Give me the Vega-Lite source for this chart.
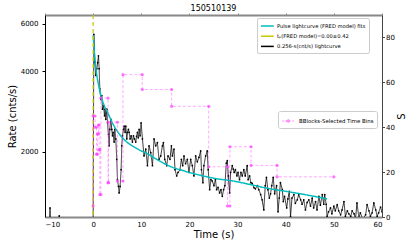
{
  "$schema": "https://vega.github.io/schema/vega-lite/v6.json",
  "width": 337,
  "height": 202,
  "autosize": {"type": "none"},
  "padding": {"left": 45, "top": 15, "right": 33, "bottom": 32},
  "background": "white",
  "title": {"text": "150510139", "fontSize": 8, "font": "DejaVu Sans", "fontWeight": "normal", "offset": 0, "color": "black"},
  "config": {
    "view": {"stroke": null},
    "font": "DejaVu Sans",
    "axis": {"labelFont": "DejaVu Sans", "titleFont": "DejaVu Sans", "labelColor": "black", "titleColor": "black", "titleFontWeight": "normal", "grid": false}
  },
  "datasets": {
    "lc": [
      {"t": -9.98, "r": 1000}, {"t": -9.47, "r": 1040}, {"t": -9.22, "r": 1010}, {"t": -8.96, "r": 1230}, {"t": -8.70, "r": 1020},
      {"t": -8.19, "r": 1060}, {"t": -7.68, "r": 990}, {"t": -7.30, "r": 1050}, {"t": -7.04, "r": 1150}, {"t": -6.78, "r": 1030},
      {"t": -6.27, "r": 1010}, {"t": -5.76, "r": 1070}, {"t": -5.25, "r": 1000}, {"t": -4.74, "r": 1050}, {"t": -4.22, "r": 1020},
      {"t": -3.71, "r": 1080}, {"t": -3.20, "r": 990}, {"t": -2.69, "r": 1040}, {"t": -2.18, "r": 1060}, {"t": -1.66, "r": 1010},
      {"t": -1.15, "r": 1050}, {"t": -0.64, "r": 1030}, {"t": -0.13, "r": 1060}, {"t": 0.0, "r": 1050},
      {"t": 0.14, "r": 5480}, {"t": 0.35, "r": 4320}, {"t": 0.56, "r": 3850}, {"t": 0.76, "r": 4080}, {"t": 0.94, "r": 4300},
      {"t": 1.11, "r": 4560}, {"t": 1.25, "r": 4080}, {"t": 1.39, "r": 3430}, {"t": 1.6, "r": 3130}, {"t": 1.8, "r": 3240},
      {"t": 1.94, "r": 2880}, {"t": 2.15, "r": 2970}, {"t": 2.36, "r": 2720}, {"t": 2.5, "r": 2880}, {"t": 2.63, "r": 2640},
      {"t": 2.84, "r": 2880}, {"t": 2.98, "r": 2570}, {"t": 3.18, "r": 2320}, {"t": 3.32, "r": 2100}, {"t": 3.46, "r": 2420},
      {"t": 3.67, "r": 2640}, {"t": 3.87, "r": 2420}, {"t": 4.01, "r": 2290}, {"t": 4.15, "r": 2360}, {"t": 4.36, "r": 2170},
      {"t": 4.5, "r": 2420}, {"t": 4.7, "r": 2230}, {"t": 4.91, "r": 1870}, {"t": 5.05, "r": 1570}, {"t": 5.26, "r": 1480},
      {"t": 5.4, "r": 1400}, {"t": 5.6, "r": 1480}, {"t": 5.81, "r": 1710}, {"t": 5.95, "r": 2100}, {"t": 6.09, "r": 2290},
      {"t": 6.3, "r": 2420}, {"t": 6.43, "r": 2490}, {"t": 6.64, "r": 2360}, {"t": 6.78, "r": 2490}, {"t": 6.99, "r": 2230},
      {"t": 7.13, "r": 2360}, {"t": 7.33, "r": 2420}, {"t": 7.47, "r": 2360}, {"t": 7.68, "r": 2230}, {"t": 7.89, "r": 2290},
      {"t": 8.16, "r": 2170}, {"t": 8.37, "r": 2290}, {"t": 8.58, "r": 2230}, {"t": 8.85, "r": 2170}, {"t": 9.02, "r": 2280},
      {"t": 9.2, "r": 2360}, {"t": 9.38, "r": 2250}, {"t": 9.55, "r": 2420}, {"t": 9.75, "r": 2290}, {"t": 9.96, "r": 2560},
      {"t": 10.24, "r": 2230}, {"t": 10.57, "r": 1925}, {"t": 10.93, "r": 2040}, {"t": 11.28, "r": 1770}, {"t": 11.61, "r": 2100},
      {"t": 11.96, "r": 1980}, {"t": 12.32, "r": 1770}, {"t": 12.65, "r": 2230}, {"t": 13.0, "r": 2100}, {"t": 13.35, "r": 2160},
      {"t": 13.68, "r": 1870}, {"t": 14.04, "r": 1925}, {"t": 14.39, "r": 2100}, {"t": 14.6, "r": 2160}, {"t": 14.87, "r": 1870},
      {"t": 15.28, "r": 1770}, {"t": 15.55, "r": 1925}, {"t": 15.96, "r": 1870}, {"t": 16.26, "r": 2100}, {"t": 16.46, "r": 1925},
      {"t": 16.79, "r": 2040}, {"t": 17.0, "r": 1710}, {"t": 17.35, "r": 1620}, {"t": 17.62, "r": 1670}, {"t": 18.04, "r": 1710},
      {"t": 18.33, "r": 1870}, {"t": 18.6, "r": 1770}, {"t": 18.87, "r": 1925}, {"t": 19.2, "r": 1800}, {"t": 19.57, "r": 1870},
      {"t": 19.9, "r": 1670}, {"t": 20.26, "r": 1870}, {"t": 20.6, "r": 1770}, {"t": 20.94, "r": 1620}, {"t": 21.29, "r": 1925},
      {"t": 21.64, "r": 1830}, {"t": 21.98, "r": 1900}, {"t": 22.33, "r": 2010}, {"t": 22.5, "r": 1710}, {"t": 22.8, "r": 1530},
      {"t": 23.0, "r": 1770}, {"t": 23.37, "r": 1925}, {"t": 23.7, "r": 2010}, {"t": 23.9, "r": 1710}, {"t": 24.2, "r": 1440},
      {"t": 24.47, "r": 1570}, {"t": 24.75, "r": 1550}, {"t": 25.1, "r": 1490}, {"t": 25.4, "r": 1570}, {"t": 25.65, "r": 1440},
      {"t": 25.95, "r": 1470}, {"t": 26.27, "r": 1400}, {"t": 26.55, "r": 1440}, {"t": 26.83, "r": 1360}, {"t": 27.1, "r": 1440},
      {"t": 27.37, "r": 1490}, {"t": 27.66, "r": 1810}, {"t": 27.87, "r": 1850}, {"t": 28.07, "r": 1620}, {"t": 28.35, "r": 1400},
      {"t": 28.55, "r": 1670}, {"t": 28.9, "r": 1770}, {"t": 29.1, "r": 1720}, {"t": 29.3, "r": 1670}, {"t": 29.55, "r": 1710},
      {"t": 29.86, "r": 1620}, {"t": 30.1, "r": 1670}, {"t": 30.4, "r": 1570}, {"t": 30.7, "r": 1670}, {"t": 30.98, "r": 1620},
      {"t": 31.3, "r": 1710}, {"t": 31.6, "r": 1620}, {"t": 32.0, "r": 1770}, {"t": 32.2, "r": 1570}, {"t": 32.5, "r": 1620},
      {"t": 32.76, "r": 1530}, {"t": 33.05, "r": 1520}, {"t": 33.4, "r": 1465}, {"t": 33.7, "r": 1450}, {"t": 34.1, "r": 1490},
      {"t": 34.4, "r": 1440}, {"t": 34.8, "r": 1380}, {"t": 35.1, "r": 1320}, {"t": 35.45, "r": 1210}, {"t": 35.75, "r": 1490},
      {"t": 36.0, "r": 1600}, {"t": 36.3, "r": 1440}, {"t": 36.6, "r": 1340}, {"t": 36.85, "r": 1390}, {"t": 37.1, "r": 1490},
      {"t": 37.4, "r": 1600}, {"t": 37.7, "r": 1390}, {"t": 38.1, "r": 1490}, {"t": 38.4, "r": 1190}, {"t": 38.65, "r": 1340},
      {"t": 38.9, "r": 1530}, {"t": 39.3, "r": 1440}, {"t": 39.5, "r": 1300}, {"t": 39.76, "r": 1360}, {"t": 40.2, "r": 1230},
      {"t": 40.45, "r": 1330}, {"t": 40.75, "r": 1420}, {"t": 41.0, "r": 1145}, {"t": 41.3, "r": 1340}, {"t": 41.7, "r": 1380},
      {"t": 42.0, "r": 1280}, {"t": 42.4, "r": 1320}, {"t": 42.7, "r": 1380}, {"t": 43.1, "r": 1320}, {"t": 43.4, "r": 1270},
      {"t": 43.75, "r": 1320}, {"t": 44.1, "r": 1210}, {"t": 44.45, "r": 1290}, {"t": 44.8, "r": 1320}, {"t": 45.15, "r": 1250},
      {"t": 45.5, "r": 1340}, {"t": 45.8, "r": 1230}, {"t": 46.2, "r": 1300}, {"t": 46.5, "r": 1210}, {"t": 46.9, "r": 1360},
      {"t": 47.2, "r": 1260}, {"t": 47.6, "r": 1380}, {"t": 47.9, "r": 1270}, {"t": 48.1, "r": 1380}, {"t": 48.4, "r": 1270},
      {"t": 48.6, "r": 1145}, {"t": 48.9, "r": 1190}, {"t": 49.3, "r": 1230}, {"t": 49.6, "r": 1170}, {"t": 50.0, "r": 1250},
      {"t": 50.3, "r": 1200}, {"t": 50.7, "r": 1265}, {"t": 51.0, "r": 1200}, {"t": 51.4, "r": 1160}, {"t": 51.7, "r": 1210},
      {"t": 52.1, "r": 1300}, {"t": 52.4, "r": 1145}, {"t": 52.8, "r": 1200}, {"t": 53.1, "r": 1170}, {"t": 53.5, "r": 1145},
      {"t": 53.8, "r": 1200}, {"t": 54.2, "r": 1170}, {"t": 54.5, "r": 1120}, {"t": 54.8, "r": 1285}, {"t": 55.2, "r": 1130},
      {"t": 55.5, "r": 1180}, {"t": 55.9, "r": 1130}, {"t": 56.2, "r": 1130}, {"t": 56.6, "r": 1160}, {"t": 56.9, "r": 1265},
      {"t": 57.3, "r": 1200}, {"t": 57.6, "r": 1145}, {"t": 57.95, "r": 1180}, {"t": 58.3, "r": 1285}, {"t": 58.7, "r": 1210},
      {"t": 59.0, "r": 1145}, {"t": 59.3, "r": 1180}, {"t": 59.7, "r": 1240}, {"t": 60.0, "r": 1190}
    ],
    "fred": [
      {"t": 0.02, "r": 5450}, {"t": 0.3, "r": 4600}, {"t": 0.6, "r": 4050}, {"t": 1.0, "r": 3650}, {"t": 1.6, "r": 3250},
      {"t": 2.2, "r": 3000}, {"t": 3.0, "r": 2800}, {"t": 4.0, "r": 2560}, {"t": 5.4, "r": 2330}, {"t": 7.0, "r": 2170},
      {"t": 8.5, "r": 2080}, {"t": 10.0, "r": 2010}, {"t": 11.0, "r": 1975}, {"t": 13.0, "r": 1880}, {"t": 16.0, "r": 1760},
      {"t": 19.0, "r": 1690}, {"t": 22.3, "r": 1630}, {"t": 25.0, "r": 1590}, {"t": 29.2, "r": 1550}, {"t": 33.0, "r": 1500},
      {"t": 36.0, "r": 1460}, {"t": 40.0, "r": 1420}, {"t": 44.0, "r": 1380}, {"t": 48.6, "r": 1330}
    ],
    "t0": [{"t": 0}],
    "bb": [
      {"o": 1, "t": 0.0, "s": 4.9}, {"o": 2, "t": 0.0, "s": 45}, {"o": 3, "t": 0.4, "s": 45}, {"o": 4, "t": 0.4, "s": 40},
      {"o": 5, "t": 0.7, "s": 40}, {"o": 6, "t": 0.7, "s": 28}, {"o": 7, "t": 0.9, "s": 28}, {"o": 8, "t": 0.9, "s": 37},
      {"o": 9, "t": 1.1, "s": 37}, {"o": 10, "t": 1.1, "s": 41}, {"o": 11, "t": 1.25, "s": 41}, {"o": 12, "t": 1.25, "s": 30},
      {"o": 13, "t": 1.4, "s": 30}, {"o": 14, "t": 1.4, "s": 10}, {"o": 15, "t": 1.6, "s": 10}, {"o": 16, "t": 1.6, "s": 53},
      {"o": 17, "t": 3.1, "s": 53}, {"o": 18, "t": 3.1, "s": 15.3}, {"o": 19, "t": 3.2, "s": 15.3}, {"o": 20, "t": 3.2, "s": 42.2},
      {"o": 21, "t": 5.05, "s": 42.2}, {"o": 22, "t": 5.05, "s": 16}, {"o": 23, "t": 6.2, "s": 16}, {"o": 24, "t": 6.2, "s": 63.4},
      {"o": 25, "t": 10.2, "s": 63.4}, {"o": 26, "t": 10.2, "s": 56.8}, {"o": 27, "t": 16.3, "s": 56.8}, {"o": 28, "t": 16.3, "s": 49.3},
      {"o": 29, "t": 24.0, "s": 49.3}, {"o": 30, "t": 24.0, "s": 22.4}, {"o": 31, "t": 27.9, "s": 22.4}, {"o": 32, "t": 27.9, "s": 4.9},
      {"o": 33, "t": 28.4, "s": 4.9}, {"o": 34, "t": 28.4, "s": 31.3}, {"o": 35, "t": 32.8, "s": 31.3}, {"o": 36, "t": 32.8, "s": 23},
      {"o": 37, "t": 38.2, "s": 23}, {"o": 38, "t": 38.2, "s": 17.9}, {"o": 39, "t": 50.0, "s": 17.9}
    ]
  },
  "layer": [
    {
      "layer": [
        {
          "data": {"name": "lc"},
          "mark": {"type": "line", "clip": true, "strokeWidth": 0.8, "point": {"size": 3, "filled": true}},
          "encoding": {
            "x": {"field": "t", "type": "quantitative", "scale": {"domain": [-10, 60], "nice": false, "zero": false},
              "axis": {"values": [-10, 0, 10, 20, 30, 40, 50, 60], "title": "Time (s)", "titleFontSize": 10, "labelFontSize": 7, "domainColor": "#888888", "domainWidth": 2, "ticks": false, "labelPadding": 3, "titlePadding": 2}},
            "y": {"field": "r", "type": "quantitative", "scale": {"type": "log", "domain": [1138, 6480], "nice": false},
              "axis": {"values": [2000, 4000, 6000], "format": "d", "title": "Rate (cnts/s)", "titleFontSize": 10, "labelFontSize": 7, "domainColor": "black", "tickColor": "black", "tickSize": 3, "labelPadding": 4, "titlePadding": 3}},
            "color": {"datum": "0.256-s(cnt/s) lightcurve", "type": "nominal",
              "scale": {"domain": ["Pulse lightcurve (FRED model) fits", "tₚ(FRED model)=0.00±0.42", "0.256-s(cnt/s) lightcurve"], "range": ["#00bcbc", "#c8c800", "black"]},
              "legend": {"orient": "none", "legendX": 212, "legendY": 3, "title": null, "symbolType": "M-1,0H2.2", "symbolStrokeWidth": 1.5, "symbolSize": 64, "labelFontSize": 5.2, "labelFont": "DejaVu Sans", "padding": 3, "strokeColor": "#cccccc", "fillColor": "white", "cornerRadius": 2, "rowPadding": 1.2, "labelOffset": 7}},
            "strokeDash": {"datum": "0.256-s(cnt/s) lightcurve", "type": "nominal",
              "scale": {"domain": ["Pulse lightcurve (FRED model) fits", "tₚ(FRED model)=0.00±0.42", "0.256-s(cnt/s) lightcurve"], "range": [[1, 0], [4, 3], [1, 0]]},
              "legend": {"orient": "none", "legendX": 212, "legendY": 3, "title": null, "symbolType": "M-1,0H2.2", "symbolStrokeWidth": 1.5, "symbolSize": 64, "labelFontSize": 5.2, "labelFont": "DejaVu Sans", "padding": 3, "strokeColor": "#cccccc", "fillColor": "white", "cornerRadius": 2, "rowPadding": 1.2, "labelOffset": 7}}
          }
        },
        {
          "data": {"name": "fred"},
          "mark": {"type": "line", "clip": true, "strokeWidth": 1.5, "interpolate": "monotone"},
          "encoding": {
            "x": {"field": "t", "type": "quantitative"},
            "y": {"field": "r", "type": "quantitative"},
            "color": {"datum": "Pulse lightcurve (FRED model) fits", "type": "nominal",
              "scale": {"domain": ["Pulse lightcurve (FRED model) fits", "tₚ(FRED model)=0.00±0.42", "0.256-s(cnt/s) lightcurve"], "range": ["#00bcbc", "#c8c800", "black"]}},
            "strokeDash": {"datum": "Pulse lightcurve (FRED model) fits", "type": "nominal",
              "scale": {"domain": ["Pulse lightcurve (FRED model) fits", "tₚ(FRED model)=0.00±0.42", "0.256-s(cnt/s) lightcurve"], "range": [[1, 0], [4, 3], [1, 0]]}}
          }
        },
        {
          "data": {"name": "t0"},
          "mark": {"type": "rule", "strokeWidth": 1.2},
          "encoding": {
            "x": {"field": "t", "type": "quantitative"},
            "color": {"datum": "tₚ(FRED model)=0.00±0.42", "type": "nominal",
              "scale": {"domain": ["Pulse lightcurve (FRED model) fits", "tₚ(FRED model)=0.00±0.42", "0.256-s(cnt/s) lightcurve"], "range": ["#00bcbc", "#c8c800", "black"]}},
            "strokeDash": {"datum": "tₚ(FRED model)=0.00±0.42", "type": "nominal",
              "scale": {"domain": ["Pulse lightcurve (FRED model) fits", "tₚ(FRED model)=0.00±0.42", "0.256-s(cnt/s) lightcurve"], "range": [[1, 0], [4, 3], [1, 0]]}}
          }
        }
      ]
    },
    {
      "data": {"name": "bb"},
      "mark": {"type": "line", "clip": true, "strokeDash": [3, 2], "strokeWidth": 1, "opacity": 0.45, "point": {"filled": true, "size": 10, "opacity": 0.75}},
      "encoding": {
        "x": {"field": "t", "type": "quantitative", "scale": {"domain": [-10, 60], "nice": false, "zero": false},
          "axis": {"orient": "top", "labels": false, "title": null, "domainColor": "#888888", "domainWidth": 2, "tickColor": "#888888", "tickSize": 2, "values": [-10, 0, 10, 20, 30, 40, 50, 60]}},
        "y": {"field": "s", "type": "quantitative", "scale": {"domain": [0, 90], "nice": false},
          "axis": {"orient": "right", "values": [0, 20, 40, 60, 80], "title": "S", "titleFontSize": 10, "titleAngle": 270, "titleBaseline": "top", "labelFontSize": 7, "domainColor": "#444444", "tickColor": "#444444", "tickSize": 2.5, "labelPadding": 1, "titlePadding": 2}},
        "order": {"field": "o", "type": "quantitative"},
        "color": {"datum": "BBlocks-Selected Time Bins", "type": "nominal", "scale": {"range": ["#ff44ff"]},
          "legend": {"orient": "none", "legendX": 233, "legendY": 96, "title": null, "symbolType": "M-1,0H1M0.25,0A0.25,0.25,0,1,1,-0.25,0A0.25,0.25,0,1,1,0.25,0", "symbolSize": 150, "symbolStrokeWidth": 1, "symbolDash": [2, 1.5], "symbolFillColor": "#ff44ff", "symbolOpacity": 0.6, "labelFontSize": 5.4, "labelFont": "DejaVu Sans", "padding": 3, "strokeColor": "#cccccc", "fillColor": "white", "cornerRadius": 2, "labelOffset": 4}}
      }
    }
  ],
  "resolve": {"scale": {"y": "independent", "color": "independent"}, "axis": {"x": "independent"}}
}
